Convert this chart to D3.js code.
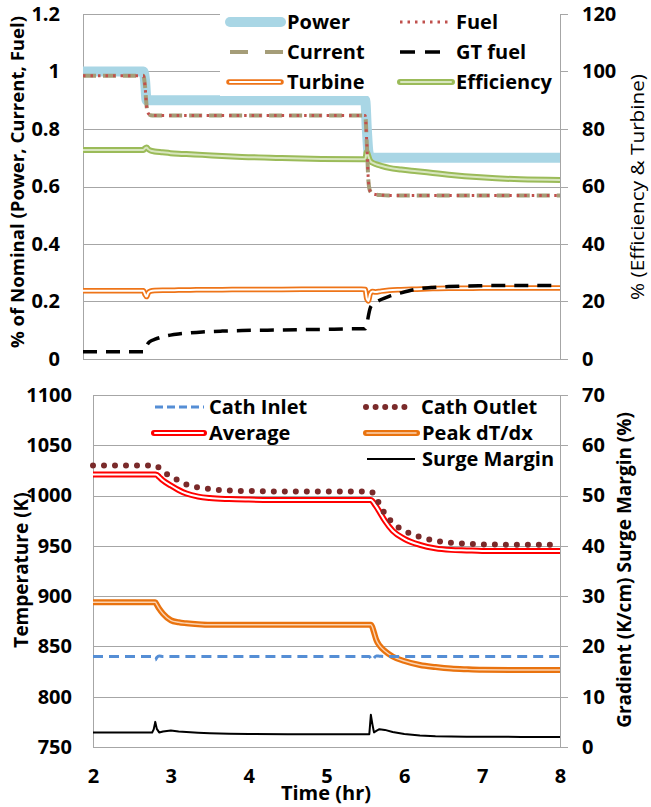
<!DOCTYPE html>
<html><head><meta charset="utf-8">
<script src="https://cdn.jsdelivr.net/npm/d3@7"></script>
<style>
html,body{margin:0;padding:0;background:#fff;}
svg{display:block;font-family:"Open Sans",sans-serif;}
</style></head>
<body>
<svg id="c" width="651" height="807"></svg>
<script>
// ---- data ----
const times = [2.0, 2.5, 2.76, 2.78, 2.8, 2.82, 2.85, 2.9, 3.0, 3.1, 3.2, 3.35, 3.5, 3.75, 4.0, 4.5, 5.0, 5.5, 5.55, 5.57, 5.59, 5.61, 5.64, 5.68, 5.75, 5.85, 6.0, 6.2, 6.4, 6.6, 6.8, 7.0, 7.5, 8.0];
// top panel, left axis (fraction of nominal)
const power   = [1.0, 1.0, 1.0, 0.97, 0.9, 0.9, 0.9, 0.9, 0.9, 0.9, 0.9, 0.9, 0.9, 0.9, 0.9, 0.9, 0.9, 0.9, 0.9, 0.8, 0.72, 0.705, 0.7, 0.7, 0.7, 0.7, 0.7, 0.7, 0.7, 0.7, 0.7, 0.7, 0.7, 0.7];
const fuel    = [0.985, 0.985, 0.985, 0.95, 0.88, 0.855, 0.848, 0.847, 0.847, 0.847, 0.847, 0.847, 0.847, 0.847, 0.847, 0.847, 0.847, 0.847, 0.847, 0.75, 0.62, 0.585, 0.575, 0.572, 0.57, 0.569, 0.569, 0.569, 0.569, 0.569, 0.569, 0.569, 0.569, 0.569];
const current = [0.985, 0.985, 0.985, 0.95, 0.88, 0.855, 0.848, 0.847, 0.847, 0.847, 0.847, 0.847, 0.847, 0.847, 0.847, 0.847, 0.847, 0.847, 0.847, 0.75, 0.62, 0.585, 0.575, 0.572, 0.57, 0.569, 0.569, 0.569, 0.569, 0.569, 0.569, 0.569, 0.569, 0.569];
const gtFuel  = [0.025, 0.025, 0.025, 0.03, 0.045, 0.055, 0.062, 0.068, 0.077, 0.083, 0.087, 0.091, 0.094, 0.097, 0.099, 0.101, 0.103, 0.105, 0.105, 0.12, 0.15, 0.175, 0.19, 0.197, 0.207, 0.218, 0.23, 0.243, 0.249, 0.252, 0.254, 0.255, 0.256, 0.256];
// top panel, right axis (%)
const efficiency = [72.7, 72.7, 72.7, 73.3, 73.6, 73.0, 72.5, 72.2, 71.9, 71.6, 71.4, 71.2, 71.0, 70.6, 70.3, 69.9, 69.6, 69.5, 69.5, 72.0, 70.5, 69.0, 68.3, 67.8, 67.2, 66.5, 65.9, 65.3, 64.7, 64.1, 63.6, 63.2, 62.5, 62.3];
const turbine    = [23.7, 23.7, 23.7, 22.5, 21.7, 23.0, 23.6, 23.8, 23.9, 23.9, 24.0, 24.0, 24.1, 24.1, 24.2, 24.2, 24.3, 24.3, 24.2, 21.0, 20.2, 22.5, 23.5, 23.3, 23.6, 23.9, 24.1, 24.3, 24.5, 24.6, 24.6, 24.7, 24.7, 24.7];
// bottom panel, left axis (K)
const cathInlet  = [840, 840, 840, 838, 836.5, 839, 840.5, 840, 840, 840, 840, 840, 840, 840, 840, 840, 840, 840, 840, 838, 836, 838.5, 840.5, 840.3, 840, 840, 840, 840, 840, 840, 840, 840, 840, 840];
const cathOutlet = [1030, 1030, 1030, 1030, 1030, 1029.5, 1027.5, 1024, 1019, 1015, 1011, 1008, 1006.5, 1005, 1004.5, 1004, 1004, 1004, 1004, 1004, 1003, 1001, 997, 992, 982, 973, 965, 959, 955, 953, 952, 951.5, 951, 951];
const average    = [1021, 1021, 1021, 1021, 1021, 1020.5, 1018.5, 1015, 1010, 1005.5, 1002, 999, 997.5, 996.5, 996, 995.5, 995.5, 995.5, 995.5, 995.5, 994.5, 992.5, 989, 984, 975, 965, 957, 951, 947.5, 946, 945.5, 945, 945, 945];
// bottom panel, right axis (K/cm and %)
const peakGrad   = [28.8, 28.8, 28.8, 28.8, 28.8, 28.3, 27.5, 26.5, 25.2, 24.8, 24.6, 24.4, 24.3, 24.3, 24.3, 24.3, 24.3, 24.3, 24.3, 24.3, 23.8, 22.8, 21.3, 20.2, 19.1, 18.0, 17.1, 16.3, 15.9, 15.6, 15.45, 15.35, 15.3, 15.3];
const surge      = [2.9, 2.9, 2.9, 3.5, 5.0, 3.6, 2.9, 3.1, 3.3, 3.1, 3.0, 2.85, 2.75, 2.65, 2.6, 2.55, 2.55, 2.55, 2.55, 6.4, 4.5, 2.9, 3.2, 3.55, 3.4, 3.0, 2.6, 2.3, 2.15, 2.1, 2.05, 2.05, 2.0, 2.0];
// ticks
const topLeftTicks = [0, 0.2, 0.4, 0.6, 0.8, 1.0, 1.2];
const topRightTicks = [0, 20, 40, 60, 80, 100, 120];
const botLeftTicks = [750, 800, 850, 900, 950, 1000, 1050, 1100];
const botRightTicks = [0, 10, 20, 30, 40, 50, 60, 70];
const xTicks = [2, 3, 4, 5, 6, 7, 8];

// ---- drawing ----
const svg = d3.select("#c");
const FONT = '"Open Sans", sans-serif';
const GRID = "#a6a6a6";
const fmtInt = d3.format("d");

const xT = d3.scaleLinear().domain([2, 8]).range([83, 560]);
const yTL = d3.scaleLinear().domain([0, 1.2]).range([359, 14]);
const yTR = d3.scaleLinear().domain([0, 120]).range([359, 14]);
const xB = d3.scaleLinear().domain([2, 8]).range([93, 560]);
const yBL = d3.scaleLinear().domain([750, 1100]).range([747, 395]);
const yBR = d3.scaleLinear().domain([0, 70]).range([747, 395]);

function grid(g, ys, ticks, x0, x1) {
  g.selectAll(null).data(ticks).join("line")
    .attr("x1", x0).attr("x2", x1)
    .attr("y1", d => Math.round(ys(d)) + 0.5).attr("y2", d => Math.round(ys(d)) + 0.5)
    .attr("stroke", GRID).attr("stroke-width", 1);
}
function styleAxis(g, size) {
  g.select(".domain").remove();
  g.selectAll(".tick line").remove();
  g.selectAll("text").attr("font-family", FONT).attr("font-weight", 700)
    .attr("font-size", size).attr("fill", "#000");
}
function path(g, xs, ys, vals, stroke, width, opts = {}) {
  const line = d3.line().x((d, i) => xs(times[i])).y(d => ys(d)).curve(opts.curve || d3.curveMonotoneX);
  const p = g.append("path").attr("d", line(vals)).attr("fill", "none")
    .attr("stroke", stroke).attr("stroke-width", width)
    .attr("stroke-linejoin", "round").attr("stroke-linecap", opts.cap || "butt");
  if (opts.dash) p.attr("stroke-dasharray", opts.dash);
  return p;
}
function dbl(g, xs, ys, vals, outer, inner, w, wi) {
  path(g, xs, ys, vals, outer, w);
  path(g, xs, ys, vals, inner, wi);
}

// ===== TOP PANEL =====
const topG = svg.append("g");
grid(topG, yTL, topLeftTicks, 83, 568);
topG.append("line").attr("x1", 83.5).attr("x2", 83.5).attr("y1", 14).attr("y2", 359).attr("stroke", GRID);
topG.append("line").attr("x1", 560.5).attr("x2", 560.5).attr("y1", 14).attr("y2", 359).attr("stroke", GRID);

topG.append("g").attr("transform", "translate(83,0)")
  .call(d3.axisLeft(yTL).tickValues(topLeftTicks).tickSize(0).tickPadding(23).tickFormat(d => String(+d.toFixed(1))))
  .call(g => styleAxis(g, 20));
topG.append("g").attr("transform", "translate(560,0)")
  .call(d3.axisRight(yTR).tickValues(topRightTicks).tickSize(0).tickPadding(22).tickFormat(fmtInt))
  .call(g => styleAxis(g, 20));

path(topG, xT, yTL, power, "#a9d6e5", 10);
dbl(topG, xT, yTR, efficiency, "#9bbb59", "#d8e6bf", 6, 2);
dbl(topG, xT, yTR, turbine, "#ee7418", "#ffffff", 5.5, 2);
path(topG, xT, yTL, current, "#a59d78", 4, {dash: "13,7"});
path(topG, xT, yTL, fuel, "#c0504d", 3, {dash: "2.5,5"});
path(topG, xT, yTL, gtFuel, "#000", 3.5, {dash: "14,9"});

// top legend
topG.append("rect").attr("x", 220).attr("y", 0).attr("width", 340).attr("height", 96).attr("fill", "#fff");
const tl = topG.append("g").attr("font-family", FONT).attr("font-weight", 700).attr("font-size", 20);
function legSym(g, x0, x1, y, stroke, w, dash, inner, wi, cap) {
  const l = g.append("line").attr("x1", x0).attr("x2", x1).attr("y1", y).attr("y2", y)
    .attr("stroke", stroke).attr("stroke-width", w).attr("stroke-linecap", cap || "butt");
  if (dash) l.attr("stroke-dasharray", dash);
  if (inner) g.append("line").attr("x1", x0 + 1).attr("x2", x1 - 1).attr("y1", y).attr("y2", y)
    .attr("stroke", inner).attr("stroke-width", wi).attr("stroke-linecap", "round");
}
function legText(g, x, y, t) {
  g.append("text").attr("x", x).attr("y", y).attr("dy", "0.35em").text(t);
}
legSym(tl, 230, 281, 22, "#a9d6e5", 10, null, null, 0, "round");
legText(tl, 287, 22, "Power");
legSym(tl, 230, 283, 52, "#a59d78", 4, "18,17");
legText(tl, 287, 52, "Current");
legSym(tl, 229, 281, 82, "#ee7418", 5.5, null, "#fff", 2, "round");
legText(tl, 287, 82, "Turbine");
legSym(tl, 400, 449, 22, "#c0504d", 3, "2.5,5");
legText(tl, 456, 22, "Fuel");
legSym(tl, 400, 449, 52, "#000", 3.5, "15,10");
legText(tl, 456, 52, "GT fuel");
legSym(tl, 400, 452, 82, "#9bbb59", 6, null, "#d8e6bf", 2, "round");
legText(tl, 456, 82, "Efficiency");

// top axis titles
svg.append("text").attr("transform", "translate(24,182) rotate(-90)").attr("text-anchor", "middle")
  .attr("font-family", FONT).attr("font-weight", 700).attr("font-size", 17)
  .attr("textLength", 332).attr("lengthAdjust", "spacingAndGlyphs")
  .text("% of Nominal (Power, Current, Fuel)");
svg.append("text").attr("transform", "translate(631,187) rotate(-90)").attr("text-anchor", "middle")
  .attr("font-family", FONT).attr("font-weight", 400).attr("font-size", 18).attr("dy", "0.7em")
  .attr("textLength", 226).attr("lengthAdjust", "spacingAndGlyphs")
  .text("% (Efficiency & Turbine)");

// ===== BOTTOM PANEL =====
const botG = svg.append("g");
grid(botG, yBL, botLeftTicks, 93, 568);
botG.append("line").attr("x1", 93.5).attr("x2", 93.5).attr("y1", 395).attr("y2", 747).attr("stroke", GRID);
botG.append("line").attr("x1", 560.5).attr("x2", 560.5).attr("y1", 395).attr("y2", 747).attr("stroke", GRID);

botG.append("g").attr("transform", "translate(93,0)")
  .call(d3.axisLeft(yBL).tickValues(botLeftTicks).tickSize(0).tickPadding(21).tickFormat(fmtInt))
  .call(g => styleAxis(g, 20));
botG.append("g").attr("transform", "translate(560,0)")
  .call(d3.axisRight(yBR).tickValues(botRightTicks).tickSize(0).tickPadding(22).tickFormat(fmtInt))
  .call(g => styleAxis(g, 20));
botG.append("g").attr("transform", "translate(0,747)")
  .call(d3.axisBottom(xB).tickValues(xTicks).tickSize(0).tickPadding(22).tickFormat(fmtInt))
  .call(g => styleAxis(g, 20));

dbl(botG, xB, yBL, average, "#ff0000", "#ffffff", 6, 2);
path(botG, xB, yBL, cathOutlet, "#7a2a2a", 6, {dash: "0,11", cap: "round"});
dbl(botG, xB, yBR, peakGrad, "#e9730f", "#fbd3b2", 6, 1.4);
path(botG, xB, yBL, cathInlet, "#558ed5", 3, {dash: "10,6"});
path(botG, xB, yBR, surge, "#000", 2, {curve: d3.curveLinear});

// bottom legend
const bl = botG.append("g").attr("font-family", FONT).attr("font-weight", 700).attr("font-size", 20);
legSym(bl, 155, 204, 407, "#558ed5", 3, "8,4");
legText(bl, 209, 407, "Cath Inlet");
legSym(bl, 154, 204, 433, "#ff0000", 6, null, "#fff", 2, "round");
legText(bl, 209, 433, "Average");
legSym(bl, 366, 414, 407, "#7a2a2a", 6, "0,9.6", null, 0, "round");
legText(bl, 421, 407, "Cath Outlet");
legSym(bl, 366, 417, 433, "#e9730f", 6, null, "#fbd3b2", 1.6, "round");
legText(bl, 422, 433, "Peak dT/dx");
legSym(bl, 367, 415, 459, "#000", 2);
legText(bl, 422, 459, "Surge Margin");

// bottom titles
svg.append("text").attr("transform", "translate(28,570) rotate(-90)").attr("text-anchor", "middle")
  .attr("font-family", FONT).attr("font-weight", 700).attr("font-size", 19).text("Temperature (K)");
svg.append("text").attr("transform", "translate(618,570) rotate(-90)").attr("text-anchor", "middle")
  .attr("font-family", FONT).attr("font-weight", 700).attr("font-size", 19).attr("dy", "0.7em").text("Gradient (K/cm) Surge Margin (%)");
svg.append("text").attr("x", 326).attr("y", 800).attr("text-anchor", "middle")
  .attr("font-family", FONT).attr("font-weight", 700).attr("font-size", 20).text("Time (hr)");
</script>
</body></html>
